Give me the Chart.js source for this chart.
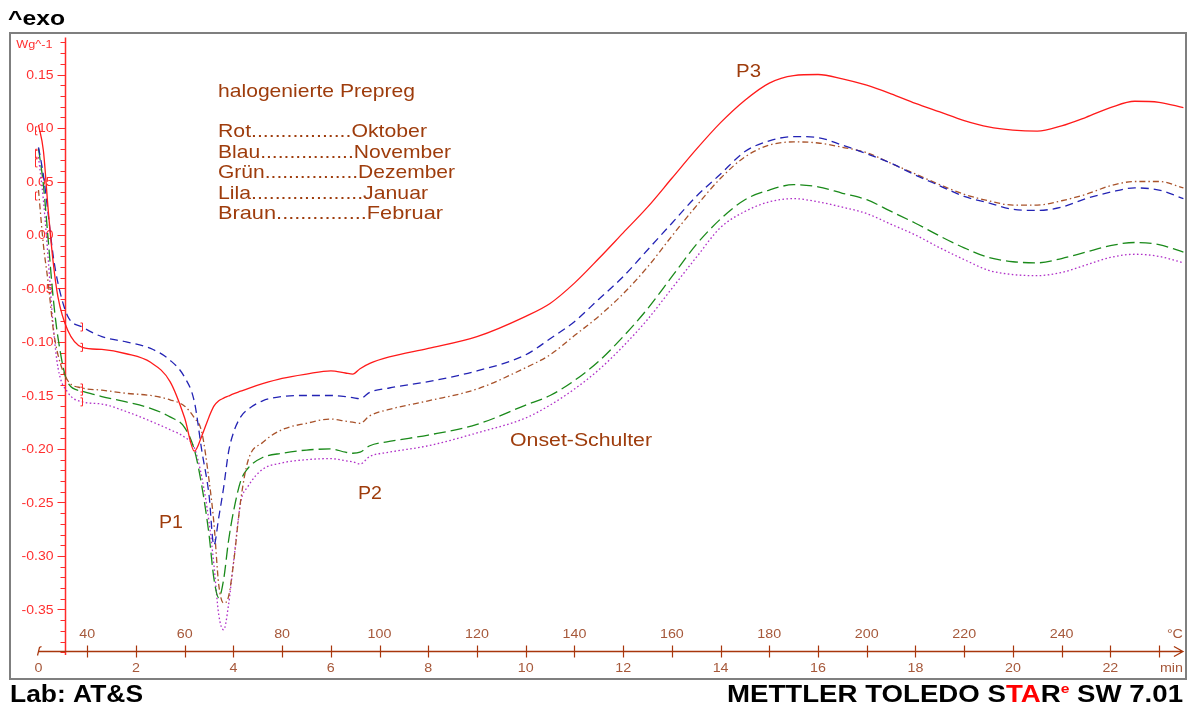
<!DOCTYPE html>
<html>
<head>
<meta charset="utf-8">
<script src="https://cdn.jsdelivr.net/npm/chart.js@4.4.1/dist/chart.umd.min.js"></script>
<style>
  html, body { margin: 0; padding: 0; background: #ffffff; }
  #wrap { position: relative; width: 1190px; height: 708px; }
</style>
</head>
<body>
<div id="wrap"><canvas id="dsc" width="1190" height="708"></canvas></div>
<script>
// DSC heat flow (Wg^-1) of halogenated prepreg samples, heated at 10 K/min from 30 °C
const timeMin = [0, 0.1, 0.2, 0.3, 0.4, 0.6, 0.9, 1.3, 1.8, 2.3, 2.7, 3.0, 3.2, 3.35, 3.5, 3.6, 3.7, 3.8, 3.9, 4.0,
  4.15, 4.3, 4.6, 5.0, 5.5, 6.0, 6.3, 6.45, 6.6, 6.8, 7.2, 8, 9, 10, 10.5, 11, 11.5, 12, 12.5, 13,
  13.5, 14, 14.5, 15, 15.5, 16, 16.5, 17, 17.5, 18, 18.5, 19, 19.5, 20, 20.5, 21, 21.5, 22, 22.5, 23, 23.5];

const rotOktober = [0.103, 0.079, 0.023, -0.025, -0.058, -0.089, -0.105, -0.107, -0.111, -0.119,
  -0.137, -0.171, -0.202, -0.188, -0.170, -0.160, -0.155, -0.1525, -0.1505, -0.1485,
  -0.146, -0.1435, -0.139, -0.134, -0.130, -0.127, -0.129, -0.130, -0.125, -0.120,
  -0.114, -0.106, -0.095, -0.076, -0.064, -0.045, -0.022, 0.002, 0.026, 0.053,
  0.080, 0.105, 0.126, 0.142, 0.149, 0.150, 0.146, 0.140, 0.132, 0.123,
  0.115, 0.107, 0.101, 0.098, 0.097, 0.102, 0.110, 0.119, 0.125, 0.124, 0.119];

const blauNovember = [0.082, 0.056, 0.019, -0.019, -0.045, -0.076, -0.086, -0.095, -0.100, -0.106,
  -0.117, -0.133, -0.156, -0.201, -0.243, -0.290, -0.264, -0.236, -0.203, -0.185,
  -0.170, -0.163, -0.155, -0.151, -0.150, -0.150, -0.151, -0.152, -0.153, -0.147,
  -0.143, -0.137, -0.127, -0.112, -0.097, -0.081, -0.060, -0.039, -0.014, 0.011,
  0.036, 0.057, 0.078, 0.088, 0.092, 0.091, 0.084, 0.076, 0.067, 0.056,
  0.046, 0.036, 0.030, 0.024, 0.023, 0.026, 0.034, 0.040, 0.044, 0.042, 0.034];

const gruenDezember = [0.081, 0.047, -0.005, -0.058, -0.096, -0.138, -0.146, -0.151, -0.156, -0.162,
  -0.170, -0.180, -0.201, -0.234, -0.280, -0.321, -0.339, -0.322, -0.286, -0.259,
  -0.230, -0.218, -0.208, -0.204, -0.201, -0.200, -0.203, -0.204, -0.203, -0.197,
  -0.193, -0.187, -0.177, -0.159, -0.150, -0.136, -0.118, -0.095, -0.069, -0.039,
  -0.009, 0.015, 0.033, 0.042, 0.047, 0.045, 0.039, 0.033, 0.022, 0.011,
  -0.001, -0.012, -0.021, -0.025, -0.026, -0.022, -0.016, -0.010, -0.007, -0.009, -0.016];

const lilaJanuar = [0.073, 0.033, -0.023, -0.084, -0.124, -0.147, -0.156, -0.158, -0.165, -0.174,
  -0.182, -0.189, -0.199, -0.226, -0.268, -0.308, -0.355, -0.369, -0.346, -0.307,
  -0.250, -0.235, -0.219, -0.213, -0.210, -0.209, -0.211, -0.212, -0.214, -0.207,
  -0.203, -0.197, -0.185, -0.171, -0.159, -0.144, -0.126, -0.104, -0.079, -0.050,
  -0.021, 0.007, 0.022, 0.031, 0.034, 0.031, 0.026, 0.020, 0.010, 0.000,
  -0.012, -0.023, -0.033, -0.037, -0.038, -0.035, -0.028, -0.021, -0.018, -0.020, -0.026];

const braunFebruar = [0.042, -0.009, -0.045, -0.087, -0.112, -0.136, -0.143, -0.145, -0.148, -0.150,
  -0.154, -0.160, -0.171, -0.184, -0.229, -0.269, -0.327, -0.344, -0.338, -0.308,
  -0.248, -0.211, -0.194, -0.182, -0.176, -0.172, -0.174, -0.175, -0.176, -0.169,
  -0.163, -0.155, -0.144, -0.124, -0.112, -0.094, -0.076, -0.055, -0.030, -0.001,
  0.027, 0.053, 0.073, 0.084, 0.087, 0.086, 0.082, 0.077, 0.067, 0.057,
  0.047, 0.038, 0.032, 0.028, 0.028, 0.032, 0.038, 0.046, 0.050, 0.050, 0.044];

// Axis ticks
const yTickValues = [0.15, 0.10, 0.05, 0.00, -0.05, -0.10, -0.15, -0.20, -0.25, -0.30, -0.35];
const yTickLabels = ['0.15', '0.10', '0.05', '0.00', '-0.05', '-0.10', '-0.15', '-0.20', '-0.25', '-0.30', '-0.35'];
const minuteTicks = [0, 2, 4, 6, 8, 10, 12, 14, 16, 18, 20, 22];
const tempTicks = [40, 60, 80, 100, 120, 140, 160, 180, 200, 220, 240];
const startTempC = 30;
const heatingRate = 10; // K/min

// Legend block text
const legendTitle = 'halogenierte Prepreg';
const legendLines = ['Rot.................Oktober', 'Blau................November', 'Grün................Dezember',
  'Lila...................Januar', 'Braun...............Februar'];

const FONT = "'Liberation Sans', Arial, sans-serif";
const BROWN_TXT = '#9e3c0c';

function pts(vals) { return timeMin.map((t, i) => ({ x: t, y: vals[i] })); }

// text squeezed/stretched horizontally to a given width
function fitText(ctx, text, x, y, width) {
  const w = ctx.measureText(text).width;
  ctx.save();
  ctx.translate(x, y);
  ctx.scale(width / w, 1);
  ctx.textAlign = 'left';
  ctx.fillText(text, 0, 0);
  ctx.restore();
}
function stretchText(ctx, text, x, y, sx, align) {
  const w = ctx.measureText(text).width * sx;
  let left = x;
  if (align === 'center') left = x - w / 2;
  else if (align === 'right') left = x - w;
  ctx.save();
  ctx.translate(left, y);
  ctx.scale(sx, 1);
  ctx.textAlign = 'left';
  ctx.fillText(text, 0, 0);
  ctx.restore();
}

const dscDecor = {
  id: 'dscDecor',
  beforeDatasetsDraw(chart) {
    const { ctx, chartArea: a } = chart;
    const xs = chart.scales.x, ys = chart.scales.y;
    ctx.save();
    // outer frame
    ctx.strokeStyle = '#7f7f7f';
    ctx.lineWidth = 2;
    ctx.strokeRect(a.left, a.top, a.right - a.left, a.bottom - a.top);

    // y axis (heat flow)
    const ax = Math.round(xs.getPixelForValue(0.544)) + 0.5;
    ctx.strokeStyle = '#ff2a2a';
    ctx.lineWidth = 1.5;
    ctx.beginPath();
    ctx.moveTo(ax, ys.getPixelForValue(0.1845));
    ctx.lineTo(ax, ys.getPixelForValue(-0.3925));
    ctx.stroke();
    ctx.lineWidth = 1;
    for (let i = -39; i <= 18; i++) {
      const py = Math.round(ys.getPixelForValue(i / 100)) + 0.5;
      const major = i % 5 === 0;
      ctx.beginPath();
      ctx.moveTo(ax - (major ? 8 : 5), py);
      ctx.lineTo(ax, py);
      ctx.stroke();
    }
    ctx.fillStyle = '#ff3030';
    ctx.font = '13px ' + FONT;
    ctx.textBaseline = 'middle';
    yTickValues.forEach((v, i) => {
      stretchText(ctx, yTickLabels[i], ax - 12, ys.getPixelForValue(v) + 0.5, 1.08, 'right');
    });
    ctx.font = '11px ' + FONT;
    stretchText(ctx, 'Wg^-1', ax - 13, ys.getPixelForValue(0.178), 1.15, 'right');

    // x axis (time / temperature)
    const ay = Math.round(ys.getPixelForValue(-0.3888)) + 0.5;
    const xEnd = xs.getPixelForValue(23.49);
    ctx.strokeStyle = '#a8360c';
    ctx.lineWidth = 1.3;
    ctx.beginPath();
    ctx.moveTo(xs.getPixelForValue(0), ay);
    ctx.lineTo(xEnd, ay);
    ctx.moveTo(xEnd - 9, ay - 5);
    ctx.lineTo(xEnd, ay);
    ctx.lineTo(xEnd - 9, ay + 5);
    ctx.stroke();
    ctx.lineWidth = 1.2;
    for (let t = 1; t <= 23; t++) {
      const px = Math.round(xs.getPixelForValue(t)) + 0.5;
      ctx.beginPath();
      ctx.moveTo(px, ay - 6);
      ctx.lineTo(px, ay + 6);
      ctx.stroke();
    }
    const p0 = xs.getPixelForValue(0);
    ctx.beginPath();
    ctx.moveTo(p0 - 1, ay + 4);
    ctx.lineTo(p0 + 1, ay - 4);
    ctx.lineTo(p0 + 3, ay - 5);
    ctx.stroke();

    ctx.fillStyle = '#a6583a';
    ctx.font = '13px ' + FONT;
    ctx.textBaseline = 'middle';
    minuteTicks.forEach(m => {
      stretchText(ctx, String(m), xs.getPixelForValue(m), ay + 17, 1.1, 'center');
    });
    tempTicks.forEach(T => {
      stretchText(ctx, String(T), xs.getPixelForValue((T - startTempC) / heatingRate), ay - 17, 1.1, 'center');
    });
    stretchText(ctx, '°C', xEnd, ay - 17, 1.1, 'right');
    stretchText(ctx, 'min', xEnd, ay + 17, 1.1, 'right');
    ctx.restore();
  },
  afterDatasetsDraw(chart) {
    const { ctx } = chart;
    const xs = chart.scales.x, ys = chart.scales.y;
    ctx.save();
    // evaluation limit brackets on each curve
    ctx.strokeStyle = '#ff2a2a';
    ctx.lineWidth = 1;
    const iEnd = timeMin.indexOf(0.9);
    [rotOktober, blauNovember, gruenDezember, lilaJanuar, braunFebruar].forEach(s => {
      const bx = Math.round(xs.getPixelForValue(0.9)) + 0.5;
      const by = ys.getPixelForValue(s[iEnd]);
      ctx.beginPath();
      ctx.moveTo(bx - 2, by - 4); ctx.lineTo(bx, by - 4); ctx.lineTo(bx, by + 4); ctx.lineTo(bx - 2, by + 4);
      ctx.stroke();
      const sx = Math.round(xs.getPixelForValue(-0.07)) + 0.5;
      const sy = ys.getPixelForValue(s[0]) + 6;
      ctx.beginPath();
      ctx.moveTo(sx + 2, sy - 4); ctx.lineTo(sx, sy - 4); ctx.lineTo(sx, sy + 4); ctx.lineTo(sx + 2, sy + 4);
      ctx.stroke();
    });

    // legend block and peak annotations
    ctx.fillStyle = BROWN_TXT;
    ctx.textBaseline = 'alphabetic';
    ctx.font = '19px ' + FONT;
    fitText(ctx, legendTitle, 218, 96.5, 197);
    const widths = [209, 233, 237, 210, 225];
    const bases = [137, 157.5, 178, 198.5, 219];
    legendLines.forEach((l, i) => fitText(ctx, l, 218, bases[i], widths[i]));
    ctx.font = '18px ' + FONT;
    fitText(ctx, 'P1', 159, 528, 24);
    fitText(ctx, 'P2', 358, 499, 24);
    fitText(ctx, 'P3', 736, 77, 25);
    fitText(ctx, 'Onset-Schulter', 510, 446, 142);
    ctx.restore();
  },
  afterDraw(chart) {
    const { ctx } = chart;
    ctx.save();
    ctx.fillStyle = '#000';
    ctx.textBaseline = 'alphabetic';
    ctx.font = 'bold 21px ' + FONT;
    fitText(ctx, '^exo', 8, 25, 57);
    ctx.font = 'bold 23px ' + FONT;
    fitText(ctx, 'Lab: AT&S', 10, 702, 133);

    // instrument signature, right aligned
    const parts = [
      { t: 'METTLER TOLEDO S', c: '#000', f: 'bold 23px ' + FONT, dy: 0 },
      { t: 'TA', c: '#ff0000', f: 'bold 23px ' + FONT, dy: 0 },
      { t: 'R', c: '#000', f: 'bold 23px ' + FONT, dy: 0 },
      { t: 'e', c: '#ff0000', f: 'bold 13px ' + FONT, dy: -9 },
      { t: ' SW 7.01', c: '#000', f: 'bold 23px ' + FONT, dy: 0 }
    ];
    let total = 0;
    parts.forEach(p => { ctx.font = p.f; p.w = ctx.measureText(p.t).width; total += p.w; });
    const targetW = 456, x0 = 727, sx = targetW / total;
    let cx = x0;
    parts.forEach(p => {
      ctx.font = p.f;
      ctx.fillStyle = p.c;
      ctx.save();
      ctx.translate(cx, 702 + p.dy);
      ctx.scale(sx, 1);
      ctx.fillText(p.t, 0, 0);
      ctx.restore();
      cx += p.w * sx;
    });
    ctx.restore();
  }
};

const lineBase = { pointRadius: 0, borderWidth: 1.3, fill: false, cubicInterpolationMode: 'monotone' };

new Chart(document.getElementById('dsc'), {
  type: 'line',
  data: {
    datasets: [
      Object.assign({ label: 'Oktober', data: pts(rotOktober), borderColor: '#ff1a1a' }, lineBase),
      Object.assign({ label: 'November', data: pts(blauNovember), borderColor: '#2323b4', borderDash: [8, 5] }, lineBase),
      Object.assign({ label: 'Februar', data: pts(braunFebruar), borderColor: '#a8522a', borderDash: [6, 3, 1.5, 3] }, lineBase),
      Object.assign({ label: 'Dezember', data: pts(gruenDezember), borderColor: '#1a8a1a', borderDash: [12, 5] }, lineBase),
      Object.assign({ label: 'Januar', data: pts(lilaJanuar), borderColor: '#b030c8', borderDash: [1.6, 2.4] }, lineBase)
    ]
  },
  options: {
    responsive: false,
    animation: false,
    parsing: true,
    layout: { padding: { left: 10, right: 4, top: 33, bottom: 29 } },
    plugins: { legend: { display: false }, tooltip: { enabled: false } },
    scales: {
      x: { type: 'linear', min: -0.585, max: 23.553, display: false },
      y: { type: 'linear', min: -0.415, max: 0.1888, display: false }
    }
  },
  plugins: [dscDecor]
});
</script>
</body>
</html>
